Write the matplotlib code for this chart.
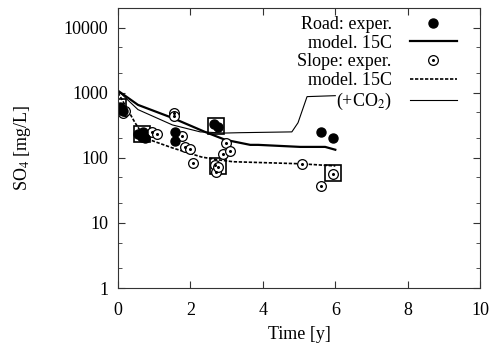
import matplotlib
matplotlib.use("Agg")
import matplotlib.pyplot as plt
from matplotlib.ticker import LogLocator, FuncFormatter, NullFormatter
from matplotlib.legend_handler import HandlerTuple

plt.rcParams["font.family"] = ["Liberation Serif", "DejaVu Serif"]
plt.rcParams["mathtext.fontset"] = "stix"

# ------------------------------------------------------------
# Data
# ------------------------------------------------------------

# Road: measured
road_t = [0.05, 0.10, 0.15, 0.55, 0.65, 0.70, 0.75, 1.57, 1.57, 2.65, 2.75, 5.60, 5.94]
road_so4 = [600, 550, 520, 230, 210, 250, 200, 250, 180, 330, 300, 250, 203]

# Slope: measured
slope_t = [0.15, 0.20, 0.95, 1.07, 1.55, 1.55, 1.77, 1.85, 1.99, 2.07,
           2.68, 2.70, 2.75, 2.90, 2.98, 3.09, 5.08, 5.61, 5.94]
slope_so4 = [480, 520, 250, 235, 490, 440, 218, 147, 137, 84,
             78, 61, 73, 115, 170, 128, 81, 37, 57]

# highlighted samples (squares)
box_t = [0.0, 0.65, 2.7, 2.75, 5.94]
box_so4 = [600, 230, 310, 75, 58]

# Road model 15C
road_mod_t = [0.0, 0.55, 1.5, 2.4, 2.96, 3.65, 3.87, 5.03, 5.72, 6.0]
road_mod_so4 = [1070, 650, 410, 250, 189, 158, 158, 147, 147, 133]

# Road model (+CO2)
co2_t = [0.0, 0.55, 1.5, 2.27, 2.96, 3.37, 4.80, 4.97, 5.22, 6.0]
co2_so4 = [1070, 550, 320, 250, 240, 243, 250, 345, 870, 900]

# Slope model 15C
slope_mod_t = [0.0, 0.47, 0.75, 1.5, 2.3, 2.76, 3.18, 5.03, 6.0]
slope_mod_so4 = [1000, 345, 200, 142, 103, 93, 87, 81, 75]

# ------------------------------------------------------------
# Plot
# ------------------------------------------------------------

fig = plt.figure(figsize=(4.96, 3.47), dpi=100)
ax = fig.add_axes([0.238, 0.170, 0.730, 0.807])

ax.plot(box_t, box_so4, linestyle="none", marker="s", markersize=11.5,
        mfc="none", mec="black", mew=1.2)

l_road_mod, = ax.plot(road_mod_t, road_mod_so4, color="black", lw=1.6)
l_co2, = ax.plot(co2_t, co2_so4, color="black", lw=0.8)
l_slope_mod, = ax.plot(slope_mod_t, slope_mod_so4, color="black", lw=1.2,
                       linestyle=(0, (2, 1)))

l_slope, = ax.plot(slope_t, slope_so4, linestyle="none", marker="o",
                   markersize=7, mfc="white", mec="black", mew=0.9)
l_slope_dot, = ax.plot(slope_t, slope_so4, linestyle="none", marker="o",
                       markersize=1.2, color="black")
l_road, = ax.plot(road_t, road_so4, linestyle="none", marker="o",
                  markersize=6.5, color="black")

ax.set_yscale("log")
ax.set_xlim(0, 10)
ax.set_ylim(1, 20000)

ax.yaxis.set_major_locator(LogLocator(base=10, numticks=10))
ax.yaxis.set_minor_locator(LogLocator(base=10, subs=[2, 5], numticks=10))
ax.yaxis.set_major_formatter(FuncFormatter(lambda v, p: "%d" % v))
ax.yaxis.set_minor_formatter(NullFormatter())
ax.set_xticks([0, 2, 4, 6, 8, 10])

for s in ax.spines.values():
    s.set_color("#333333")

ax.tick_params(which="both", direction="in", top=True, right=True,
               labelsize=13, pad=7, color="#333333")
ax.tick_params(axis="x", pad=10)
ax.tick_params(which="major", length=5)
ax.tick_params(which="minor", length=3)
ax.tick_params(axis="x", which="minor", top=False, bottom=False)

ax.set_xlabel("Time [y]", fontsize=13, labelpad=5)
ax.set_ylabel("SO$_4$ [mg/L]", fontsize=13, labelpad=22)

ax.legend(
    [l_road, l_road_mod, (l_slope, l_slope_dot), l_slope_mod, l_co2],
    ["Road: exper.", "model. 15C", "Slope: exper.", "model. 15C", "(+CO$_2$)"],
    handler_map={tuple: HandlerTuple(ndivide=1, pad=0)},
    loc="upper right", bbox_to_anchor=(0.98, 1.03),
    frameon=False, markerfirst=False, fontsize=13,
    handlelength=2.6, labelspacing=0.1, handletextpad=1.0,
)

fig.savefig("out.png", dpi=100)
